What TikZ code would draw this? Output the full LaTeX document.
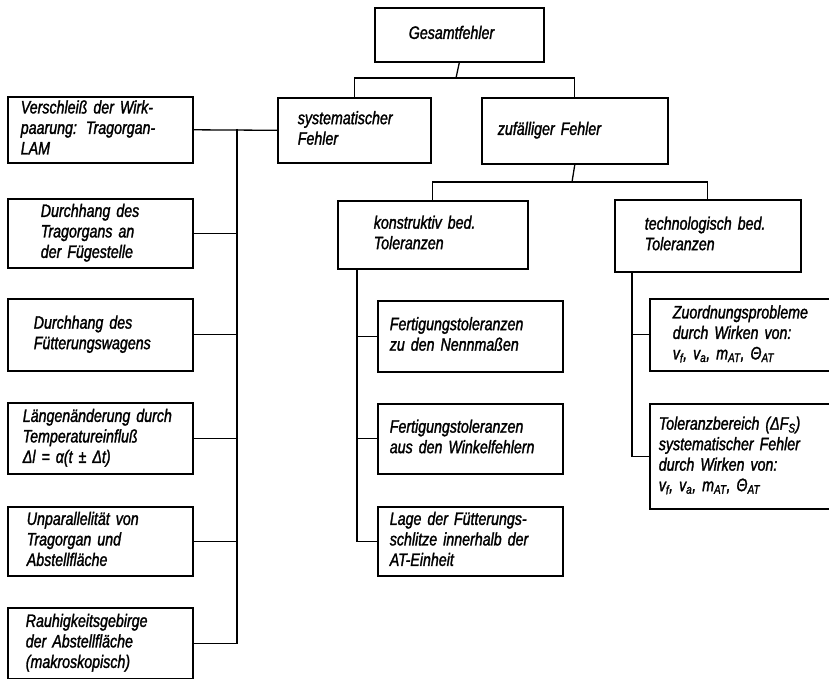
\documentclass[tikz,border=0pt]{standalone}
\usepackage{fontspec}
\newfontfamily\dinfont{Liberation Sans}[FakeStretch=0.79,FakeBold=1.5]
\usepackage{tikz}
\usetikzlibrary{positioning}

\newcommand\boxtext[2]{\hspace*{#1}\begin{tabular}{@{}l@{}}#2\end{tabular}}

\tikzset{
  box/.style={draw, line width=1.6pt, anchor=north west, align=left,
    inner sep=0pt, font=\dinfont\itshape\fontsize{18}{20.5}\selectfont},
  link/.style={line width=1.3pt}
}

\begin{document}
\begin{tikzpicture}[x=1pt, y=-1pt]
\useasboundingbox (0,0) rectangle (829,679);
\node[box, text width=169pt, minimum height=54pt] (gesamt) at (374,7) {\boxtext{34pt}{Gesamtfehler}};
\node[box, text width=153pt, minimum height=65pt] (syst) at (277,97) {\boxtext{20pt}{systematischer\\Fehler}};
\node[box, text width=186pt, minimum height=66pt] (zuf) at (481,97) {\boxtext{16pt}{zufälliger Fehler}};
\node[box, text width=190pt, minimum height=68pt] (konstr) at (337,200) {\boxtext{36pt}{konstruktiv bed.\\Toleranzen}};
\node[box, text width=186pt, minimum height=72pt] (techn) at (614,199) {\boxtext{30pt}{technologisch bed.\\Toleranzen}};

\node[box, text width=185pt, minimum height=66pt] (v1) at (7,96) {\boxtext{13pt}{Verschleiß der Wirk-\\paarung: Tragorgan-\\LAM}};
\node[box, text width=185pt, minimum height=69pt] (v2) at (7,198) {\boxtext{33pt}{Durchhang des\\Tragorgans an\\der Fügestelle}};
\node[box, text width=185pt, minimum height=72pt] (v3) at (7,298) {\boxtext{26pt}{Durchhang des\\Fütterungswagens}};
\node[box, text width=185pt, minimum height=71pt] (v4) at (7,402) {\boxtext{15pt}{Längenänderung durch\\Temperatureinfluß\\Δl = α(t ± Δt)}};
\node[box, text width=185pt, minimum height=69pt] (v5) at (7,506) {\boxtext{19pt}{Unparallelität von\\Tragorgan und\\Abstellfläche}};
\node[box, text width=185pt, minimum height=71pt] (v6) at (7,607) {\boxtext{18pt}{Rauhigkeitsgebirge\\der Abstellfläche\\(makroskopisch)}};

\node[box, text width=185pt, minimum height=71pt] (k1) at (377,300) {\boxtext{12pt}{Fertigungstoleranzen\\zu den Nennmaßen}};
\node[box, text width=185pt, minimum height=70pt] (k2) at (377,403) {\boxtext{12pt}{Fertigungstoleranzen\\aus den Winkelfehlern}};
\node[box, text width=185pt, minimum height=69pt] (k3) at (377,506) {\boxtext{12pt}{Lage der Fütterungs-\\schlitze innerhalb der\\AT-Einheit}};

\node[box, text width=190pt, minimum height=72pt] (t1) at (649,298) {\boxtext{23pt}{Zuordnungsprobleme\\durch Wirken von:\\v\textsubscript{f}, v\textsubscript{a}, m\textsubscript{AT}, Θ\textsubscript{AT}}};
\node[box, text width=190pt, minimum height=105pt] (t2) at (649,403) {\boxtext{9pt}{Toleranzbereich (ΔF\textsubscript{S})\\systematischer Fehler\\durch Wirken von:\\v\textsubscript{f}, v\textsubscript{a}, m\textsubscript{AT}, Θ\textsubscript{AT}}};

\coordinate (j1) at (456,78);
\coordinate (j2) at (572,182);
\coordinate (lt) at (237,129);
\coordinate (kt) at (357,268);
\coordinate (tt) at (632,271);

\draw[link] (gesamt.south) -- (j1);
\draw[link] (syst.north) |- (j1) -| (zuf.north);
\draw[link] (zuf.south) -- (j2);
\draw[link] (konstr.north) |- (j2) -| (techn.north);

\draw[link] (syst.west) -- (v1.east);
\draw[link] (lt) |- (v6.east);
\foreach \n in {v2,v3,v4,v5}
  \draw[link] (\n.east) -- (\n.east -| lt);

\draw[link] (kt) |- (k3.west);
\foreach \n in {k1,k2}
  \draw[link] (\n.west) -- (\n.west -| kt);

\draw[link] (tt) |- (t2.west);
\draw[link] (t1.west) -- (t1.west -| tt);
\end{tikzpicture}
\end{document}
